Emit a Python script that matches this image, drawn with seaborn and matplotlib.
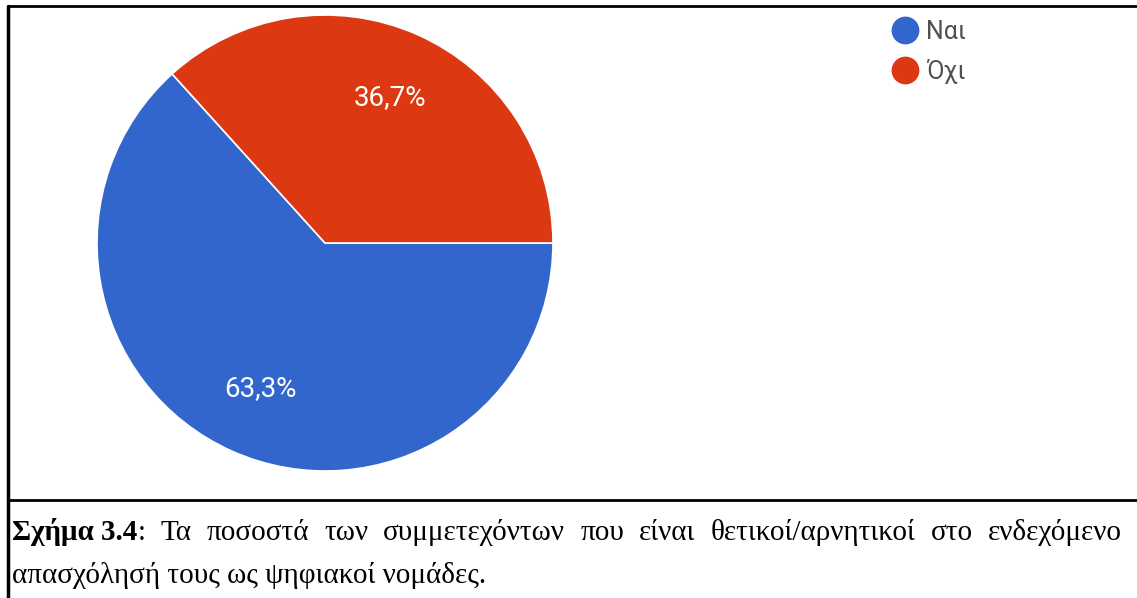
import matplotlib
matplotlib.use("Agg")
import matplotlib.pyplot as plt
from matplotlib.lines import Line2D
import seaborn as sns

# data
labels = ["Ναι", "Όχι"]
values = [63.3, 36.7]
colors = ["#3366cc", "#dc3912"]

caption_bold = "Σχήμα 3.4"
caption_line1 = ": Τα ποσοστά των συμμετεχόντων που είναι θετικοί/αρνητικοί στο ενδεχόμενο"
caption_line2 = "απασχόλησή τους ως ψηφιακοί νομάδες."

sns.set_theme(style="white")
plt.rcParams["font.family"] = ["Roboto", "DejaVu Sans"]

W, H = 1137, 598
fig = plt.figure(figsize=(W / 100, H / 100), dpi=100)

# pie axes: center (325, 243) px, radius 228 px
cx, cy, r = 325, 243, 228
ax = fig.add_axes([(cx - r) / W, (H - cy - r) / H, 2 * r / W, 2 * r / H])
wedges, texts, autotexts = ax.pie(
    values, colors=colors, startangle=0, counterclock=False,
    autopct=lambda p: f"{p:.1f}%".replace(".", ","), pctdistance=0.7,
    wedgeprops=dict(edgecolor="white", linewidth=1.2),
    textprops=dict(color="white", fontsize=20),
)
ax.set_xlim(-1, 1)
ax.set_ylim(-1, 1)
ax.set_aspect("equal")
ax.axis("off")

# legend
handles = [Line2D([], [], marker="o", linestyle="", markersize=19,
                  markerfacecolor=c, markeredgecolor=c) for c in colors]
fig.legend(handles, labels, loc="upper left", bbox_to_anchor=(890 / W, 1 - 20 / H),
           frameon=False, fontsize=18, labelcolor="#505050",
           handletextpad=0.25, handlelength=1.2, labelspacing=0.6,
           borderaxespad=0, borderpad=0)

# frame lines
lw = 2
fig.add_artist(Line2D([8 / W, 1], [1 - 6 / H, 1 - 6 / H], color="black", lw=lw))
fig.add_artist(Line2D([8 / W, 8 / W], [1 - 6 / H, 0], color="black", lw=lw + 0.5))
fig.add_artist(Line2D([8 / W, 1], [1 - 500 / H, 1 - 500 / H], color="black", lw=lw))

# caption (justified first line)
serif = ["Liberation Serif", "DejaVu Serif"]
fs = 21
x0, x1 = 12, 1122
y1 = 1 - 540 / H
y2 = 1 - 583 / H
fig.canvas.draw()
renderer = fig.canvas.get_renderer()

words = [(caption_bold, "bold")]
rest = caption_line1.split(" ")
words.append((rest[0], "normal"))  # ":" stays glued to the bold part
words += [(w, "normal") for w in rest[1:]]

texts1 = []
for w, wt in words:
    t = fig.text(0, y1, w, fontsize=fs, family=serif, weight=wt, color="black",
                 va="baseline")
    texts1.append(t)
widths = [t.get_window_extent(renderer).width for t in texts1]
n_gaps = len(words) - 2
gap = (x1 - x0 - sum(widths)) / n_gaps
x = x0
for i, (t, wdt) in enumerate(zip(texts1, widths)):
    t.set_x(x / W)
    x += wdt
    if i >= 1:
        x += gap

fig.text(x0 / W, y2, caption_line2, fontsize=fs, family=serif, color="black",
         va="baseline")

fig.savefig("out.png", dpi=100, facecolor="white")
